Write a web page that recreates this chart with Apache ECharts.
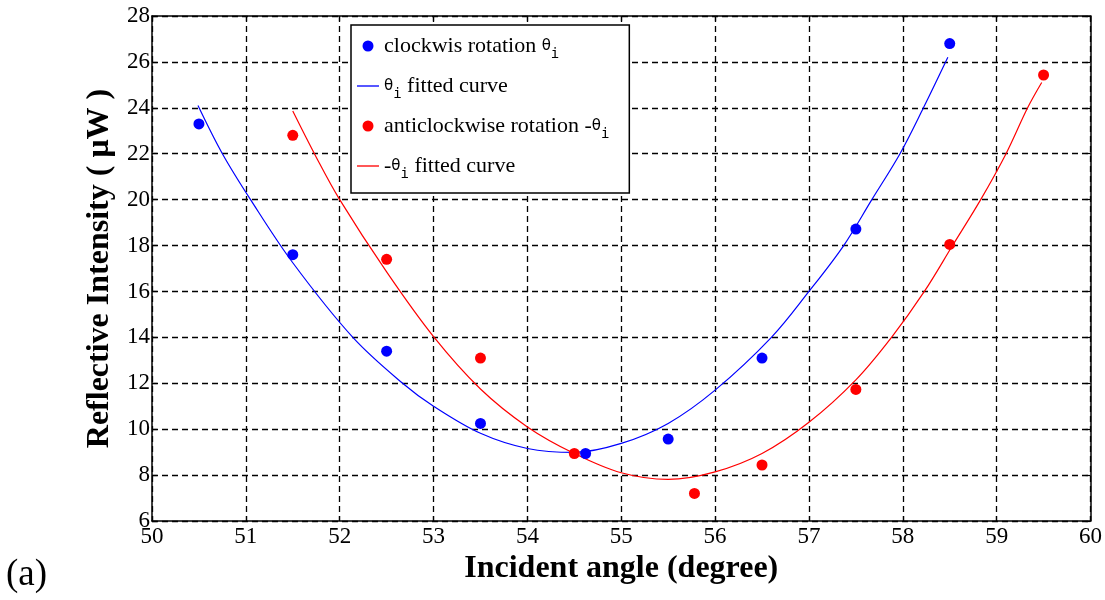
<!DOCTYPE html>
<html>
<head>
<meta charset="utf-8">
<script src="https://cdn.jsdelivr.net/npm/echarts@6/dist/echarts.min.js"></script>
<style>
html,body{margin:0;padding:0;background:#fff;}
#chart{width:1105px;height:600px;}
</style>
</head>
<body>
<div id="chart"></div>
<script>
// ---- data ----
const xTicks = [50, 51, 52, 53, 54, 55, 56, 57, 58, 59, 60];
const yTicks = [6, 8, 10, 12, 14, 16, 18, 20, 22, 24, 26, 28];

const cwX = [50.5, 51.5, 52.5, 53.5, 54.62, 55.5, 56.5, 57.5, 58.5];
const cwY = [23.3, 17.6, 13.4, 10.25, 8.94, 9.57, 13.1, 18.72, 26.8];

const cwFitX = [50.49, 50.75, 51.05, 51.5, 52.14, 52.67, 53.0, 53.5, 54.0, 54.5, 55.0, 55.5, 56.0, 56.6, 57.0, 57.37, 57.67, 57.97, 58.22, 58.48];
const cwFitY = [24.1, 22.0, 20.0, 17.25, 14.0, 12.0, 11.0, 9.82, 9.16, 8.99, 9.38, 10.25, 11.7, 14.0, 16.0, 18.0, 20.0, 22.0, 24.0, 26.2];

const acwX = [51.5, 52.5, 53.5, 54.5, 55.78, 56.5, 57.5, 58.5, 59.5];
const acwY = [22.8, 17.4, 13.1, 8.94, 7.2, 8.44, 11.73, 18.05, 25.43];

const acwFitX = [51.5, 51.75, 52.0, 52.5, 53.0, 53.5, 54.0, 54.5, 55.0, 55.5, 56.0, 56.5, 57.0, 57.5, 57.88, 58.23, 58.53, 58.83, 59.1, 59.33, 59.48];
const acwFitY = [23.86, 21.85, 20.0, 16.85, 14.03, 11.75, 10.1, 8.94, 8.1, 7.81, 8.14, 8.94, 10.3, 12.15, 14.0, 16.0, 18.0, 20.0, 22.0, 24.0, 25.1];

const seriesNames = ['clockwis rotation θi', 'θi fitted curve', 'anticlockwise rotation -θi', '-θi fitted curve'];
const legendRich = {
  'clockwis rotation θi': '{a|clockwis rotation }{th|θ}{sub|i}',
  'θi fitted curve': '{th|θ}{sub|i}{a| fitted curve}',
  'anticlockwise rotation -θi': '{a|anticlockwise rotation -}{th|θ}{sub|i}',
  '-θi fitted curve': '{a|-}{th|θ}{sub|i}{a| fitted curve}'
};

const zip = (xs, ys) => xs.map((x, i) => [x, ys[i]]);

const chart = echarts.init(document.getElementById('chart'), null, {renderer: 'canvas'});
const serif = 'Liberation Serif';
const lineIcon = 'path://M0,0L100,0L100,6L0,6Z';
const axisBase = {
  type: 'value',
  axisLine: {show: true, lineStyle: {color: '#000', width: 1.5}},
  axisTick: {show: true, inside: true, length: 5, lineStyle: {color: '#000', width: 1.2}},
};
chart.setOption({
  animation: false,
  backgroundColor: '#fff',
  grid: {left: 152, right: 14, top: 16, bottom: 79, containLabel: false},
  xAxis: [
    Object.assign({}, axisBase, {
      min: xTicks[0], max: xTicks[xTicks.length - 1], interval: 1,
      position: 'bottom',
      name: 'Incident angle (degree)', nameLocation: 'middle', nameGap: 23,
      nameTextStyle: {fontFamily: serif, fontSize: 32, fontWeight: 'bold', color: '#000'},
      axisLabel: {fontFamily: serif, fontSize: 23, color: '#000', margin: 4},
      splitLine: {show: true, lineStyle: {color: '#000', type: [6, 4], width: 1.3}}
    }),
    Object.assign({}, axisBase, {
      min: xTicks[0], max: xTicks[xTicks.length - 1], interval: 1,
      position: 'top', axisLabel: {show: false}, splitLine: {show: false}
    })
  ],
  yAxis: [
    Object.assign({}, axisBase, {
      min: yTicks[0], max: yTicks[yTicks.length - 1], interval: 2,
      position: 'left',
      name: 'Reflective Intensity ( μW )', nameLocation: 'middle', nameGap: 26,
      nameTextStyle: {fontFamily: serif, fontSize: 32, fontWeight: 'bold', color: '#000'},
      axisLabel: {fontFamily: serif, fontSize: 23, color: '#000', margin: 2},
      splitLine: {show: true, lineStyle: {color: '#000', type: [6, 4], width: 1.3}}
    }),
    Object.assign({}, axisBase, {
      min: yTicks[0], max: yTicks[yTicks.length - 1], interval: 2,
      position: 'right', axisLabel: {show: false}, splitLine: {show: false}
    })
  ],
  legend: {
    orient: 'vertical',
    left: 351, top: 25,
    backgroundColor: '#fff',
    borderColor: '#000', borderWidth: 1.5, borderRadius: 0,
    padding: [10, 20, 12, 6],
    itemWidth: 22, itemHeight: 11,
    itemGap: 14,
    data: [
      {name: seriesNames[0], icon: 'circle'},
      {name: seriesNames[1], icon: lineIcon},
      {name: seriesNames[2], icon: 'circle'},
      {name: seriesNames[3], icon: lineIcon}
    ],
    formatter: n => legendRich[n],
    textStyle: {
      color: '#000',
      rich: {
        a: {fontFamily: serif, fontSize: 22, color: '#000', lineHeight: 30},
        th: {fontFamily: 'DejaVu Sans', fontSize: 15, color: '#000', lineHeight: 30},
        sub: {fontFamily: 'DejaVu Sans Mono', fontSize: 14, color: '#000', lineHeight: 14, verticalAlign: 'bottom'}
      }
    }
  },
  graphic: [{
    type: 'text', left: 6, top: 557,
    style: {text: '(a)', fontFamily: serif, fontSize: 37, fill: '#000'}
  }],
  series: [
    {name: seriesNames[0], type: 'scatter', data: zip(cwX, cwY), symbol: 'circle', symbolSize: 11,
     itemStyle: {color: '#0000ff', opacity: 1}, z: 5},
    {name: seriesNames[1], type: 'line', data: zip(cwFitX, cwFitY), smooth: 0.35, symbol: 'none', showSymbol: false,
     lineStyle: {color: '#0000ff', width: 1.2}, itemStyle: {color: '#0000ff'}, z: 4},
    {name: seriesNames[2], type: 'scatter', data: zip(acwX, acwY), symbol: 'circle', symbolSize: 11,
     itemStyle: {color: '#ff0000', opacity: 1}, z: 5},
    {name: seriesNames[3], type: 'line', data: zip(acwFitX, acwFitY), smooth: 0.35, symbol: 'none', showSymbol: false,
     lineStyle: {color: '#ff0000', width: 1.2}, itemStyle: {color: '#ff0000'}, z: 4}
  ]
});
</script>
</body>
</html>
